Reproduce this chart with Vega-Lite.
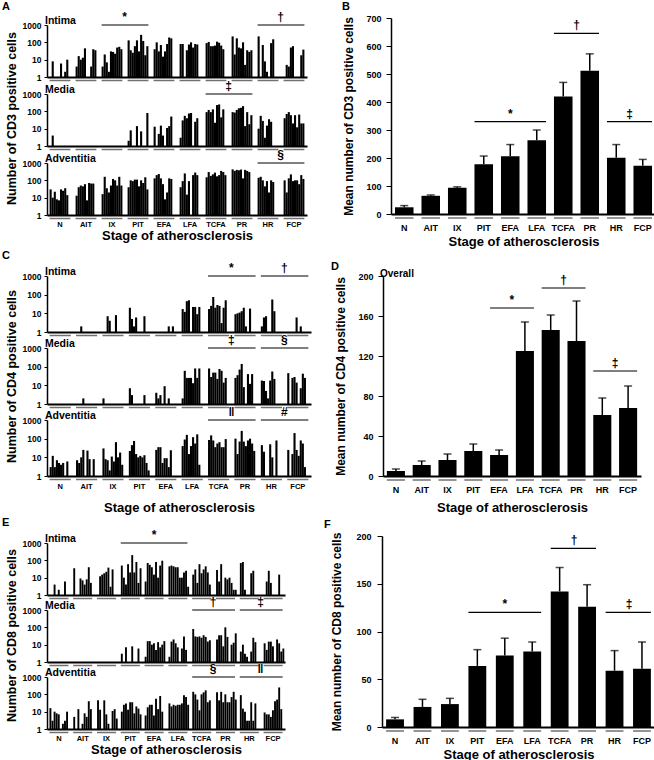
{
"$schema":"https://vega.github.io/schema/vega-lite/v6.json",
"background":"white",
"padding":{"left":2,"top":1,"right":0,"bottom":0},
"config":{
 "font":"Liberation Sans",
 "view":{"stroke":null},
 "axis":{"labelFont":"Liberation Sans","titleFont":"Liberation Sans","labelFontWeight":"bold","titleFontWeight":"bold","labelColor":"black","titleColor":"black","domainColor":"black","tickColor":"black","grid":false,"labelAngle":0,"labelOverlap":false},
 "title":{"font":"Liberation Sans","fontWeight":"bold","color":"black","anchor":"start"}
},
"datasets":{
 "groups":[{"g":"N"},{"g":"AIT"},{"g":"IX"},{"g":"PIT"},{"g":"EFA"},{"g":"LFA"},{"g":"TCFA"},{"g":"PR"},{"g":"HR"},{"g":"FCP"}],
 "counts":[
  {"m":"CD3","l":"Intima","g":"N","s0":0,"s1":8,"s2":0,"s3":0,"s4":0,"s5":6,"s6":0,"s7":2,"s8":10,"s9":0},
  {"m":"CD3","l":"Intima","g":"AIT","s0":4,"s1":16,"s2":10,"s3":13,"s4":45,"s5":0,"s6":0,"s7":4,"s8":40,"s9":35},
  {"m":"CD3","l":"Intima","g":"IX","s0":4,"s1":20,"s2":7,"s3":2,"s4":30,"s5":28,"s6":22,"s7":50,"s8":55,"s9":40},
  {"m":"CD3","l":"Intima","g":"PIT","s0":130,"s1":35,"s2":25,"s3":60,"s4":130,"s5":30,"s6":270,"s7":120,"s8":18,"s9":60},
  {"m":"CD3","l":"Intima","g":"EFA","s0":40,"s1":100,"s2":30,"s3":70,"s4":15,"s5":30,"s6":80,"s7":190,"s8":170,"s9":0},
  {"m":"CD3","l":"Intima","g":"LFA","s0":80,"s1":80,"s2":0,"s3":35,"s4":75,"s5":100,"s6":50,"s7":80,"s8":75,"s9":0},
  {"m":"CD3","l":"Intima","g":"TCFA","s0":90,"s1":105,"s2":60,"s3":60,"s4":65,"s5":110,"s6":95,"s7":65,"s8":40,"s9":0},
  {"m":"CD3","l":"Intima","g":"PR","s0":220,"s1":20,"s2":170,"s3":50,"s4":45,"s5":100,"s6":5,"s7":35,"s8":28,"s9":35},
  {"m":"CD3","l":"Intima","g":"HR","s0":220,"s1":0,"s2":70,"s3":8,"s4":2,"s5":0,"s6":90,"s7":150,"s8":0,"s9":0},
  {"m":"CD3","l":"Intima","g":"FCP","s0":0,"s1":5,"s2":4,"s3":50,"s4":60,"s5":0,"s6":0,"s7":0,"s8":18,"s9":38},
  {"m":"CD3","l":"Media","g":"N","s0":0,"s1":4,"s2":0,"s3":0,"s4":0,"s5":0,"s6":0,"s7":0,"s8":0,"s9":0},
  {"m":"CD3","l":"Media","g":"PIT","s0":2,"s1":8,"s2":0,"s3":0,"s4":14,"s5":0,"s6":7,"s7":0,"s8":0,"s9":80},
  {"m":"CD3","l":"Media","g":"EFA","s0":13,"s1":0,"s2":5,"s3":15,"s4":4,"s5":0,"s6":11,"s7":14,"s8":50,"s9":0},
  {"m":"CD3","l":"Media","g":"LFA","s0":3,"s1":30,"s2":55,"s3":40,"s4":75,"s5":80,"s6":0,"s7":25,"s8":40,"s9":0},
  {"m":"CD3","l":"Media","g":"TCFA","s0":90,"s1":120,"s2":90,"s3":130,"s4":22,"s5":230,"s6":250,"s7":45,"s8":130,"s9":0},
  {"m":"CD3","l":"Media","g":"PR","s0":90,"s1":85,"s2":120,"s3":150,"s4":160,"s5":200,"s6":14,"s7":90,"s8":18,"s9":60},
  {"m":"CD3","l":"Media","g":"HR","s0":10,"s1":55,"s2":28,"s3":3,"s4":15,"s5":35,"s6":25,"s7":0,"s8":0,"s9":0},
  {"m":"CD3","l":"Media","g":"FCP","s0":40,"s1":70,"s2":90,"s3":60,"s4":20,"s5":60,"s6":12,"s7":65,"s8":20,"s9":20},
  {"m":"CD3","l":"Adventitia","g":"N","s0":30,"s1":10,"s2":22,"s3":8,"s4":7,"s5":30,"s6":25,"s7":35,"s8":14,"s9":0},
  {"m":"CD3","l":"Adventitia","g":"AIT","s0":13,"s1":40,"s2":50,"s3":45,"s4":60,"s5":7,"s6":70,"s7":65,"s8":65,"s9":0},
  {"m":"CD3","l":"Adventitia","g":"IX","s0":16,"s1":160,"s2":35,"s3":20,"s4":50,"s5":120,"s6":100,"s7":50,"s8":160,"s9":50},
  {"m":"CD3","l":"Adventitia","g":"PIT","s0":40,"s1":100,"s2":90,"s3":110,"s4":110,"s5":45,"s6":100,"s7":70,"s8":150,"s9":30},
  {"m":"CD3","l":"Adventitia","g":"EFA","s0":130,"s1":200,"s2":230,"s3":130,"s4":60,"s5":8,"s6":20,"s7":130,"s8":120,"s9":0},
  {"m":"CD3","l":"Adventitia","g":"LFA","s0":40,"s1":90,"s2":250,"s3":15,"s4":90,"s5":0,"s6":200,"s7":280,"s8":200,"s9":0},
  {"m":"CD3","l":"Adventitia","g":"TCFA","s0":150,"s1":300,"s2":180,"s3":220,"s4":280,"s5":170,"s6":200,"s7":350,"s8":300,"s9":200},
  {"m":"CD3","l":"Adventitia","g":"PR","s0":430,"s1":350,"s2":400,"s3":380,"s4":420,"s5":130,"s6":400,"s7":350,"s8":300,"s9":0},
  {"m":"CD3","l":"Adventitia","g":"HR","s0":140,"s1":160,"s2":100,"s3":45,"s4":90,"s5":20,"s6":100,"s7":80,"s8":0,"s9":0},
  {"m":"CD3","l":"Adventitia","g":"FCP","s0":100,"s1":20,"s2":130,"s3":220,"s4":90,"s5":100,"s6":100,"s7":60,"s8":200,"s9":120},
  {"m":"CD4","l":"Intima","g":"AIT","s0":0,"s1":0,"s2":2,"s3":0,"s4":0,"s5":0,"s6":0,"s7":0,"s8":0,"s9":0},
  {"m":"CD4","l":"Intima","g":"IX","s0":0,"s1":0,"s2":7,"s3":4,"s4":0,"s5":0,"s6":8,"s7":0,"s8":0,"s9":0},
  {"m":"CD4","l":"Intima","g":"PIT","s0":20,"s1":5,"s2":2,"s3":6,"s4":0,"s5":0,"s6":0,"s7":7,"s8":0,"s9":0},
  {"m":"CD4","l":"Intima","g":"EFA","s0":0,"s1":0,"s2":0,"s3":0,"s4":0,"s5":0,"s6":2,"s7":0,"s8":2,"s9":0},
  {"m":"CD4","l":"Intima","g":"LFA","s0":17,"s1":12,"s2":45,"s3":50,"s4":0,"s5":22,"s6":22,"s7":9,"s8":22,"s9":0},
  {"m":"CD4","l":"Intima","g":"TCFA","s0":17,"s1":25,"s2":75,"s3":20,"s4":28,"s5":25,"s6":3,"s7":20,"s8":50,"s9":0},
  {"m":"CD4","l":"Intima","g":"PR","s0":9,"s1":10,"s2":11,"s3":13,"s4":20,"s5":2,"s6":0,"s7":18,"s8":0,"s9":0},
  {"m":"CD4","l":"Intima","g":"HR","s0":2,"s1":6,"s2":7,"s3":0,"s4":0,"s5":55,"s6":13,"s7":0,"s8":0,"s9":0},
  {"m":"CD4","l":"Intima","g":"FCP","s0":0,"s1":0,"s2":0,"s3":0,"s4":6,"s5":0,"s6":2,"s7":0,"s8":0,"s9":0},
  {"m":"CD4","l":"Media","g":"AIT","s0":0,"s1":0,"s2":0,"s3":2,"s4":0,"s5":0,"s6":0,"s7":0,"s8":0,"s9":0},
  {"m":"CD4","l":"Media","g":"IX","s0":2,"s1":0,"s2":0,"s3":0,"s4":0,"s5":0,"s6":0,"s7":0,"s8":0,"s9":0},
  {"m":"CD4","l":"Media","g":"PIT","s0":7,"s1":3,"s2":0,"s3":0,"s4":0,"s5":0,"s6":0,"s7":3,"s8":0,"s9":0},
  {"m":"CD4","l":"Media","g":"EFA","s0":4,"s1":2,"s2":3,"s3":0,"s4":9,"s5":0,"s6":2,"s7":0,"s8":0,"s9":0},
  {"m":"CD4","l":"Media","g":"LFA","s0":2,"s1":60,"s2":25,"s3":25,"s4":25,"s5":13,"s6":80,"s7":25,"s8":80,"s9":0},
  {"m":"CD4","l":"Media","g":"TCFA","s0":80,"s1":28,"s2":48,"s3":48,"s4":22,"s5":75,"s6":60,"s7":14,"s8":25,"s9":0},
  {"m":"CD4","l":"Media","g":"PR","s0":25,"s1":35,"s2":70,"s3":140,"s4":8,"s5":0,"s6":40,"s7":12,"s8":40,"s9":0},
  {"m":"CD4","l":"Media","g":"HR","s0":18,"s1":17,"s2":5,"s3":2,"s4":18,"s5":55,"s6":22,"s7":0,"s8":0,"s9":0},
  {"m":"CD4","l":"Media","g":"FCP","s0":45,"s1":0,"s2":25,"s3":28,"s4":14,"s5":0,"s6":7,"s7":42,"s8":25,"s9":0},
  {"m":"CD4","l":"Adventitia","g":"N","s0":3,"s1":12,"s2":3,"s3":7,"s4":5,"s5":4,"s6":5,"s7":0,"s8":6,"s9":0},
  {"m":"CD4","l":"Adventitia","g":"AIT","s0":7,"s1":5,"s2":10,"s3":25,"s4":0,"s5":23,"s6":8,"s7":0,"s8":8,"s9":0},
  {"m":"CD4","l":"Adventitia","g":"IX","s0":30,"s1":8,"s2":7,"s3":2,"s4":11,"s5":6,"s6":65,"s7":10,"s8":18,"s9":4},
  {"m":"CD4","l":"Adventitia","g":"PIT","s0":22,"s1":45,"s2":75,"s3":15,"s4":10,"s5":12,"s6":10,"s7":13,"s8":5,"s9":2},
  {"m":"CD4","l":"Adventitia","g":"EFA","s0":25,"s1":35,"s2":35,"s3":5,"s4":9,"s5":9,"s6":3,"s7":24,"s8":0,"s9":0},
  {"m":"CD4","l":"Adventitia","g":"LFA","s0":40,"s1":90,"s2":160,"s3":15,"s4":40,"s5":120,"s6":55,"s7":170,"s8":4,"s9":0},
  {"m":"CD4","l":"Adventitia","g":"TCFA","s0":85,"s1":150,"s2":80,"s3":35,"s4":55,"s5":65,"s6":35,"s7":35,"s8":95,"s9":0},
  {"m":"CD4","l":"Adventitia","g":"PR","s0":100,"s1":15,"s2":70,"s3":260,"s4":70,"s5":40,"s6":80,"s7":100,"s8":55,"s9":22},
  {"m":"CD4","l":"Adventitia","g":"HR","s0":45,"s1":20,"s2":0,"s3":0,"s4":50,"s5":10,"s6":0,"s7":80,"s8":0,"s9":0},
  {"m":"CD4","l":"Adventitia","g":"FCP","s0":25,"s1":0,"s2":15,"s3":200,"s4":25,"s5":12,"s6":80,"s7":55,"s8":3,"s9":0},
  {"m":"CD8","l":"Intima","g":"N","s0":0,"s1":0,"s2":4,"s3":0,"s4":2,"s5":0,"s6":0,"s7":6,"s8":0,"s9":0},
  {"m":"CD8","l":"Intima","g":"AIT","s0":35,"s1":0,"s2":0,"s3":9,"s4":7,"s5":4,"s6":8,"s7":40,"s8":5,"s9":0},
  {"m":"CD8","l":"Intima","g":"IX","s0":0,"s1":12,"s2":15,"s3":18,"s4":22,"s5":38,"s6":3,"s7":30,"s8":0,"s9":0},
  {"m":"CD8","l":"Intima","g":"PIT","s0":50,"s1":10,"s2":4,"s3":60,"s4":20,"s5":200,"s6":20,"s7":80,"s8":5,"s9":35},
  {"m":"CD8","l":"Intima","g":"EFA","s0":6,"s1":70,"s2":55,"s3":40,"s4":15,"s5":80,"s6":10,"s7":50,"s8":95,"s9":0},
  {"m":"CD8","l":"Intima","g":"LFA","s0":45,"s1":50,"s2":45,"s3":40,"s4":40,"s5":10,"s6":10,"s7":20,"s8":25,"s9":3},
  {"m":"CD8","l":"Intima","g":"TCFA","s0":15,"s1":30,"s2":5,"s3":60,"s4":18,"s5":30,"s6":45,"s7":20,"s8":4,"s9":0},
  {"m":"CD8","l":"Intima","g":"PR","s0":28,"s1":6,"s2":60,"s3":0,"s4":10,"s5":8,"s6":10,"s7":5,"s8":2,"s9":2},
  {"m":"CD8","l":"Intima","g":"HR","s0":70,"s1":80,"s2":2,"s3":0,"s4":0,"s5":18,"s6":25,"s7":0,"s8":0,"s9":0},
  {"m":"CD8","l":"Intima","g":"FCP","s0":0,"s1":6,"s2":25,"s3":5,"s4":0,"s5":0,"s6":0,"s7":15,"s8":0,"s9":0},
  {"m":"CD8","l":"Media","g":"PIT","s0":3,"s1":0,"s2":7,"s3":0,"s4":0,"s5":8,"s6":0,"s7":0,"s8":6,"s9":0},
  {"m":"CD8","l":"Media","g":"EFA","s0":2,"s1":16,"s2":16,"s3":10,"s4":12,"s5":5,"s6":14,"s7":7,"s8":10,"s9":16},
  {"m":"CD8","l":"Media","g":"LFA","s0":2,"s1":15,"s2":20,"s3":12,"s4":7,"s5":0,"s6":6,"s7":30,"s8":5,"s9":0},
  {"m":"CD8","l":"Media","g":"TCFA","s0":80,"s1":30,"s2":28,"s3":30,"s4":25,"s5":35,"s6":28,"s7":15,"s8":18,"s9":0},
  {"m":"CD8","l":"Media","g":"PR","s0":20,"s1":35,"s2":35,"s3":8,"s4":100,"s5":28,"s6":0,"s7":10,"s8":13,"s9":45},
  {"m":"CD8","l":"Media","g":"HR","s0":4,"s1":10,"s2":3,"s3":2,"s4":0,"s5":4,"s6":25,"s7":14,"s8":0,"s9":0},
  {"m":"CD8","l":"Media","g":"FCP","s0":12,"s1":5,"s2":15,"s3":15,"s4":8,"s5":0,"s6":20,"s7":12,"s8":4,"s9":6},
  {"m":"CD8","l":"Adventitia","g":"N","s0":16,"s1":3,"s2":10,"s3":8,"s4":7,"s5":0,"s6":2,"s7":3,"s8":10,"s9":0},
  {"m":"CD8","l":"Adventitia","g":"AIT","s0":5,"s1":0,"s2":14,"s3":0,"s4":2,"s5":8,"s6":5,"s7":40,"s8":14,"s9":0},
  {"m":"CD8","l":"Adventitia","g":"IX","s0":45,"s1":13,"s2":0,"s3":45,"s4":7,"s5":2,"s6":0,"s7":11,"s8":14,"s9":4},
  {"m":"CD8","l":"Adventitia","g":"PIT","s0":10,"s1":25,"s2":30,"s3":13,"s4":35,"s5":35,"s6":8,"s7":20,"s8":15,"s9":7},
  {"m":"CD8","l":"Adventitia","g":"EFA","s0":6,"s1":18,"s2":25,"s3":25,"s4":6,"s5":55,"s6":14,"s7":80,"s8":10,"s9":0},
  {"m":"CD8","l":"Adventitia","g":"LFA","s0":30,"s1":20,"s2":25,"s3":22,"s4":25,"s5":25,"s6":30,"s7":90,"s8":70,"s9":25},
  {"m":"CD8","l":"Adventitia","g":"TCFA","s0":140,"s1":100,"s2":50,"s3":12,"s4":100,"s5":130,"s6":170,"s7":35,"s8":45,"s9":0},
  {"m":"CD8","l":"Adventitia","g":"PR","s0":130,"s1":45,"s2":140,"s3":35,"s4":100,"s5":35,"s6":35,"s7":70,"s8":140,"s9":50},
  {"m":"CD8","l":"Adventitia","g":"HR","s0":90,"s1":15,"s2":10,"s3":3,"s4":3,"s5":35,"s6":3,"s7":30,"s8":0,"s9":0},
  {"m":"CD8","l":"Adventitia","g":"FCP","s0":9,"s1":7,"s2":7,"s3":5,"s4":12,"s5":40,"s6":50,"s7":250,"s8":14,"s9":0}
 ],
 "means":[
  {"m":"CD3","g":"N","mean":24,"upper":30},{"m":"CD3","g":"AIT","mean":65,"upper":68},{"m":"CD3","g":"IX","mean":94,"upper":97},{"m":"CD3","g":"PIT","mean":178,"upper":207},{"m":"CD3","g":"EFA","mean":206,"upper":248},{"m":"CD3","g":"LFA","mean":263,"upper":300},{"m":"CD3","g":"TCFA","mean":420,"upper":470},{"m":"CD3","g":"PR","mean":512,"upper":572},{"m":"CD3","g":"HR","mean":201,"upper":248},{"m":"CD3","g":"FCP","mean":172,"upper":195},
  {"m":"CD4","g":"N","mean":5,"upper":7},{"m":"CD4","g":"AIT","mean":11,"upper":15},{"m":"CD4","g":"IX","mean":16,"upper":22},{"m":"CD4","g":"PIT","mean":25,"upper":32},{"m":"CD4","g":"EFA","mean":21,"upper":26},{"m":"CD4","g":"LFA","mean":125,"upper":154},{"m":"CD4","g":"TCFA","mean":146,"upper":161},{"m":"CD4","g":"PR","mean":135,"upper":175},{"m":"CD4","g":"HR","mean":61,"upper":78},{"m":"CD4","g":"FCP","mean":68,"upper":90},
  {"m":"CD8","g":"N","mean":8,"upper":10},{"m":"CD8","g":"AIT","mean":21,"upper":29},{"m":"CD8","g":"IX","mean":24,"upper":30},{"m":"CD8","g":"PIT","mean":64,"upper":81},{"m":"CD8","g":"EFA","mean":75,"upper":93},{"m":"CD8","g":"LFA","mean":79,"upper":89},{"m":"CD8","g":"TCFA","mean":142,"upper":167},{"m":"CD8","g":"PR","mean":126,"upper":149},{"m":"CD8","g":"HR","mean":59,"upper":80},{"m":"CD8","g":"FCP","mean":61,"upper":89}
 ],
 "sig":[
  {"k":"A1","from":"IX","to":"PIT","mid":"PIT","odd":false,"y":1000,"t":"*"},
  {"k":"A1","from":"HR","to":"FCP","mid":"FCP","odd":false,"y":1000,"t":"†"},
  {"k":"A2","from":"TCFA","to":"PR","mid":"PR","odd":false,"y":1000,"t":"‡"},
  {"k":"A3","from":"HR","to":"FCP","mid":"FCP","odd":false,"y":1000,"t":"§"},
  {"k":"B","from":"PIT","to":"LFA","mid":"EFA","odd":true,"y":330,"t":"*"},
  {"k":"B","from":"TCFA","to":"PR","mid":"PR","odd":false,"y":645,"t":"†"},
  {"k":"B","from":"HR","to":"FCP","mid":"FCP","odd":false,"y":330,"t":"‡"},
  {"k":"C1","from":"TCFA","to":"PR","mid":"PR","odd":false,"y":1000,"t":"*"},
  {"k":"C1","from":"HR","to":"FCP","mid":"FCP","odd":false,"y":1000,"t":"†"},
  {"k":"C2","from":"TCFA","to":"PR","mid":"PR","odd":false,"y":1000,"t":"‡"},
  {"k":"C2","from":"HR","to":"FCP","mid":"FCP","odd":false,"y":1000,"t":"§"},
  {"k":"C3","from":"TCFA","to":"PR","mid":"PR","odd":false,"y":1000,"t":"‖"},
  {"k":"C3","from":"HR","to":"FCP","mid":"FCP","odd":false,"y":1000,"t":"#"},
  {"k":"D","from":"EFA","to":"LFA","mid":"LFA","odd":false,"y":168,"t":"*"},
  {"k":"D","from":"TCFA","to":"PR","mid":"PR","odd":false,"y":188,"t":"†"},
  {"k":"D","from":"HR","to":"FCP","mid":"FCP","odd":false,"y":105,"t":"‡"},
  {"k":"E1","from":"PIT","to":"LFA","mid":"EFA","odd":true,"y":1000,"t":"*"},
  {"k":"E2","from":"TCFA","to":"PR","mid":"PR","odd":false,"y":1000,"t":"†"},
  {"k":"E2","from":"HR","to":"FCP","mid":"FCP","odd":false,"y":1000,"t":"‡"},
  {"k":"E3","from":"TCFA","to":"PR","mid":"PR","odd":false,"y":1000,"t":"§"},
  {"k":"E3","from":"HR","to":"FCP","mid":"FCP","odd":false,"y":1000,"t":"‖"},
  {"k":"F","from":"PIT","to":"LFA","mid":"EFA","odd":true,"y":120,"t":"*"},
  {"k":"F","from":"TCFA","to":"PR","mid":"PR","odd":false,"y":187,"t":"†"},
  {"k":"F","from":"HR","to":"FCP","mid":"FCP","odd":false,"y":120,"t":"‡"}
 ]
},
"spacing":2,
"vconcat":[
 {"hconcat":[
  {"vconcat":[
   {"width":10,"height":1,"data":{"values":[{"z":0}]},"mark":{"type":"point","opacity":0},"encoding":{}},
   {"vconcat":[
   {"width":260,"height":52,"title":{"text":"Intima","fontSize":10.5,"frame":"group","offset":-15,"dx":-2},
    "layer":[
     {"data":{"name":"counts"},"transform":[{"filter":"datum.m==='CD3' && datum.l==='Intima'"},{"fold":["s0","s1","s2","s3","s4","s5","s6","s7","s8","s9"],"as":["s","v"]},{"filter":"datum.v>0"}],
      "mark":{"type":"rule","color":"black","strokeWidth":2.1},
      "encoding":{"x":{"field":"g","type":"nominal","scale":{"domain":["N","AIT","IX","PIT","EFA","LFA","TCFA","PR","HR","FCP"],"paddingInner":0.2,"paddingOuter":0.1},"axis":{"labels":false,"ticks":false,"title":null,"domainWidth":2}},
       "xOffset":{"field":"s","type":"nominal","scale":{"domain":["s0","s1","s2","s3","s4","s5","s6","s7","s8","s9"]}},
       "y":{"field":"v","type":"quantitative","scale":{"type":"log","domain":[1,1000]},"axis":{"values":[1,10,100,1000],"tickCount":10,"format":"d","labelFontSize":8.5,"tickSize":3,"labelPadding":3,"domainWidth":1.5,"title":"Number of CD3 positive cells","titleFontSize":12.5,"titlePadding":4,"titleY":93}},
       "y2":{"datum":1}}},
     {"data":{"name":"groups"},"mark":{"type":"tick","orient":"horizontal","thickness":1.5,"color":"#333","yOffset":3.5},"encoding":{"x":{"field":"g","type":"nominal"},"y":{"datum":1}}},
     {"data":{"name":"sig"},"transform":[{"filter":"datum.k==='A1'"}],"mark":{"type":"rule","color":"black","strokeWidth":1.2},"encoding":{"x":{"field":"from","type":"nominal","bandPosition":0},"x2":{"field":"to","bandPosition":1},"y":{"field":"y","type":"quantitative"}}},
     {"data":{"name":"sig"},"transform":[{"filter":"datum.k==='A1' && !datum.odd"}],"mark":{"type":"text","baseline":"bottom","dy":-1,"dx":-3,"fontSize":12,"fontWeight":"bold","font":"Liberation Sans, DejaVu Sans"},"encoding":{"x":{"field":"mid","type":"nominal","bandPosition":0},"y":{"field":"y","type":"quantitative"},"text":{"field":"t"}}}
    ]},
   {"width":260,"height":52,"title":{"text":"Media","fontSize":10.5,"frame":"group","offset":-15,"dx":-2},
    "layer":[
     {"data":{"name":"counts"},"transform":[{"filter":"datum.m==='CD3' && datum.l==='Media'"},{"fold":["s0","s1","s2","s3","s4","s5","s6","s7","s8","s9"],"as":["s","v"]},{"filter":"datum.v>0"}],
      "mark":{"type":"rule","color":"black","strokeWidth":2.1},
      "encoding":{"x":{"field":"g","type":"nominal","scale":{"domain":["N","AIT","IX","PIT","EFA","LFA","TCFA","PR","HR","FCP"],"paddingInner":0.2,"paddingOuter":0.1},"axis":{"labels":false,"ticks":false,"title":null,"domainWidth":2}},
       "xOffset":{"field":"s","type":"nominal","scale":{"domain":["s0","s1","s2","s3","s4","s5","s6","s7","s8","s9"]}},
       "y":{"field":"v","type":"quantitative","scale":{"type":"log","domain":[1,1000]},"axis":{"values":[1,10,100,1000],"tickCount":10,"format":"d","labelFontSize":8.5,"tickSize":3,"labelPadding":3,"domainWidth":1.5,"title":null}},
       "y2":{"datum":1}}},
     {"data":{"name":"groups"},"mark":{"type":"tick","orient":"horizontal","thickness":1.5,"color":"#333","yOffset":3.5},"encoding":{"x":{"field":"g","type":"nominal"},"y":{"datum":1}}},
     {"data":{"name":"sig"},"transform":[{"filter":"datum.k==='A2'"}],"mark":{"type":"rule","color":"black","strokeWidth":1.2},"encoding":{"x":{"field":"from","type":"nominal","bandPosition":0},"x2":{"field":"to","bandPosition":1},"y":{"field":"y","type":"quantitative"}}},
     {"data":{"name":"sig"},"transform":[{"filter":"datum.k==='A2' && !datum.odd"}],"mark":{"type":"text","baseline":"bottom","dy":-1,"dx":-3,"fontSize":12,"fontWeight":"bold","font":"Liberation Sans, DejaVu Sans"},"encoding":{"x":{"field":"mid","type":"nominal","bandPosition":0},"y":{"field":"y","type":"quantitative"},"text":{"field":"t"}}}
    ]},
   {"width":260,"height":52,"title":{"text":"Adventitia","fontSize":10.5,"frame":"group","offset":-15,"dx":-2},
    "layer":[
     {"data":{"name":"counts"},"transform":[{"filter":"datum.m==='CD3' && datum.l==='Adventitia'"},{"fold":["s0","s1","s2","s3","s4","s5","s6","s7","s8","s9"],"as":["s","v"]},{"filter":"datum.v>0"}],
      "mark":{"type":"rule","color":"black","strokeWidth":2.1},
      "encoding":{"x":{"field":"g","type":"nominal","scale":{"domain":["N","AIT","IX","PIT","EFA","LFA","TCFA","PR","HR","FCP"],"paddingInner":0.2,"paddingOuter":0.1},"axis":{"ticks":false,"domainWidth":2,"labelFontSize":7.5,"labelPadding":5,"title":"Stage of atherosclerosis","titleFontSize":13,"titlePadding":2}},
       "xOffset":{"field":"s","type":"nominal","scale":{"domain":["s0","s1","s2","s3","s4","s5","s6","s7","s8","s9"]}},
       "y":{"field":"v","type":"quantitative","scale":{"type":"log","domain":[1,1000]},"axis":{"values":[1,10,100,1000],"tickCount":10,"format":"d","labelFontSize":8.5,"tickSize":3,"labelPadding":3,"domainWidth":1.5,"title":null}},
       "y2":{"datum":1}}},
     {"data":{"name":"groups"},"mark":{"type":"tick","orient":"horizontal","thickness":1.5,"color":"#333","yOffset":3.5},"encoding":{"x":{"field":"g","type":"nominal"},"y":{"datum":1}}},
     {"data":{"name":"sig"},"transform":[{"filter":"datum.k==='A3'"}],"mark":{"type":"rule","color":"black","strokeWidth":1.2},"encoding":{"x":{"field":"from","type":"nominal","bandPosition":0},"x2":{"field":"to","bandPosition":1},"y":{"field":"y","type":"quantitative"}}},
     {"data":{"name":"sig"},"transform":[{"filter":"datum.k==='A3' && !datum.odd"}],"mark":{"type":"text","baseline":"bottom","dy":-1,"dx":-3,"fontSize":12,"fontWeight":"bold","font":"Liberation Sans, DejaVu Sans"},"encoding":{"x":{"field":"mid","type":"nominal","bandPosition":0},"y":{"field":"y","type":"quantitative"},"text":{"field":"t"}}}
    ]}
   ],"spacing":17,"bounds":"flush"}
  ],"spacing":6,"bounds":"flush","title":{"text":"A","fontSize":11,"frame":"bounds","offset":-1,"dx":-3}},
  {"width":265,"height":196,"title":{"text":"B","fontSize":11,"frame":"bounds","offset":2,"dx":-1},
   "layer":[
    {"data":{"name":"means"},"transform":[{"filter":"datum.m==='CD3'"}],"mark":{"type":"bar","color":"black"},
     "encoding":{"x":{"field":"g","type":"nominal","scale":{"domain":["N","AIT","IX","PIT","EFA","LFA","TCFA","PR","HR","FCP"],"paddingInner":0.3,"paddingOuter":0.15},"axis":{"ticks":false,"domainWidth":2,"labelFontSize":9,"labelPadding":9,"title":"Stage of atherosclerosis","titleFontSize":13,"titlePadding":3}},
      "y":{"field":"mean","type":"quantitative","scale":{"domain":[0,700],"nice":false},"axis":{"values":[0,100,200,300,400,500,600,700],"tickCount":20,"labelOverlap":false,"labelFontSize":9,"tickSize":5,"labelPadding":5,"domainWidth":1.5,"title":"Mean number of CD3 positive cells","titleFontSize":12,"titlePadding":10}}}},
    {"data":{"name":"means"},"transform":[{"filter":"datum.m==='CD3'"}],"mark":{"type":"rule","color":"black","strokeWidth":1.5},"encoding":{"x":{"field":"g","type":"nominal"},"y":{"field":"mean","type":"quantitative"},"y2":{"field":"upper"}}},
    {"data":{"name":"means"},"transform":[{"filter":"datum.m==='CD3'"}],"mark":{"type":"tick","orient":"horizontal","size":8,"thickness":1.5,"color":"black"},"encoding":{"x":{"field":"g","type":"nominal"},"y":{"field":"upper","type":"quantitative"}}},
    {"data":{"name":"groups"},"mark":{"type":"tick","orient":"horizontal","thickness":1.5,"color":"#333","yOffset":4},"encoding":{"x":{"field":"g","type":"nominal"},"y":{"datum":0}}},
    {"data":{"name":"sig"},"transform":[{"filter":"datum.k==='B'"}],"mark":{"type":"rule","color":"black","strokeWidth":1.2},"encoding":{"x":{"field":"from","type":"nominal","bandPosition":0},"x2":{"field":"to","bandPosition":1},"y":{"field":"y","type":"quantitative"}}},
    {"data":{"name":"sig"},"transform":[{"filter":"datum.k==='B' && !datum.odd"}],"mark":{"type":"text","baseline":"bottom","dy":-1,"dx":-4,"fontSize":12,"fontWeight":"bold","font":"Liberation Sans, DejaVu Sans"},"encoding":{"x":{"field":"mid","type":"nominal","bandPosition":0},"y":{"field":"y","type":"quantitative"},"text":{"field":"t"}}},
    {"data":{"name":"sig"},"transform":[{"filter":"datum.k==='B' && datum.odd"}],"mark":{"type":"text","baseline":"bottom","dy":-1,"fontSize":12,"fontWeight":"bold","font":"Liberation Sans, DejaVu Sans"},"encoding":{"x":{"field":"mid","type":"nominal","bandPosition":0.5},"y":{"field":"y","type":"quantitative"},"text":{"field":"t"}}}
   ]}
 ],"spacing":34},
 {"hconcat":[
  {"vconcat":[
   {"width":264,"height":56,"title":{"text":"Intima","fontSize":10.5,"frame":"group","offset":-15,"dx":-2},
    "layer":[
     {"data":{"name":"counts"},"transform":[{"filter":"datum.m==='CD4' && datum.l==='Intima'"},{"fold":["s0","s1","s2","s3","s4","s5","s6","s7","s8","s9"],"as":["s","v"]},{"filter":"datum.v>0"}],
      "mark":{"type":"rule","color":"black","strokeWidth":2.1},
      "encoding":{"x":{"field":"g","type":"nominal","scale":{"domain":["N","AIT","IX","PIT","EFA","LFA","TCFA","PR","HR","FCP"],"paddingInner":0.2,"paddingOuter":0.1},"axis":{"labels":false,"ticks":false,"title":null,"domainWidth":2}},
       "xOffset":{"field":"s","type":"nominal","scale":{"domain":["s0","s1","s2","s3","s4","s5","s6","s7","s8","s9"]}},
       "y":{"field":"v","type":"quantitative","scale":{"type":"log","domain":[1,1000]},"axis":{"values":[1,10,100,1000],"tickCount":10,"format":"d","labelFontSize":8.5,"tickSize":3,"labelPadding":3,"domainWidth":1.5,"title":"Number of CD4 positive cells","titleFontSize":12.5,"titlePadding":4,"titleY":100}},
       "y2":{"datum":1}}},
     {"data":{"name":"groups"},"mark":{"type":"tick","orient":"horizontal","thickness":1.5,"color":"#333","yOffset":3.5},"encoding":{"x":{"field":"g","type":"nominal"},"y":{"datum":1}}},
     {"data":{"name":"sig"},"transform":[{"filter":"datum.k==='C1'"}],"mark":{"type":"rule","color":"black","strokeWidth":1.2},"encoding":{"x":{"field":"from","type":"nominal","bandPosition":0},"x2":{"field":"to","bandPosition":1},"y":{"field":"y","type":"quantitative"}}},
     {"data":{"name":"sig"},"transform":[{"filter":"datum.k==='C1' && !datum.odd"}],"mark":{"type":"text","baseline":"bottom","dy":-1,"dx":-3,"fontSize":12,"fontWeight":"bold","font":"Liberation Sans, DejaVu Sans"},"encoding":{"x":{"field":"mid","type":"nominal","bandPosition":0},"y":{"field":"y","type":"quantitative"},"text":{"field":"t"}}}
    ]},
   {"width":264,"height":56,"title":{"text":"Media","fontSize":10.5,"frame":"group","offset":-15,"dx":-2},
    "layer":[
     {"data":{"name":"counts"},"transform":[{"filter":"datum.m==='CD4' && datum.l==='Media'"},{"fold":["s0","s1","s2","s3","s4","s5","s6","s7","s8","s9"],"as":["s","v"]},{"filter":"datum.v>0"}],
      "mark":{"type":"rule","color":"black","strokeWidth":2.1},
      "encoding":{"x":{"field":"g","type":"nominal","scale":{"domain":["N","AIT","IX","PIT","EFA","LFA","TCFA","PR","HR","FCP"],"paddingInner":0.2,"paddingOuter":0.1},"axis":{"labels":false,"ticks":false,"title":null,"domainWidth":2}},
       "xOffset":{"field":"s","type":"nominal","scale":{"domain":["s0","s1","s2","s3","s4","s5","s6","s7","s8","s9"]}},
       "y":{"field":"v","type":"quantitative","scale":{"type":"log","domain":[1,1000]},"axis":{"values":[1,10,100,1000],"tickCount":10,"format":"d","labelFontSize":8.5,"tickSize":3,"labelPadding":3,"domainWidth":1.5,"title":null}},
       "y2":{"datum":1}}},
     {"data":{"name":"groups"},"mark":{"type":"tick","orient":"horizontal","thickness":1.5,"color":"#333","yOffset":3.5},"encoding":{"x":{"field":"g","type":"nominal"},"y":{"datum":1}}},
     {"data":{"name":"sig"},"transform":[{"filter":"datum.k==='C2'"}],"mark":{"type":"rule","color":"black","strokeWidth":1.2},"encoding":{"x":{"field":"from","type":"nominal","bandPosition":0},"x2":{"field":"to","bandPosition":1},"y":{"field":"y","type":"quantitative"}}},
     {"data":{"name":"sig"},"transform":[{"filter":"datum.k==='C2' && !datum.odd"}],"mark":{"type":"text","baseline":"bottom","dy":-1,"dx":-3,"fontSize":12,"fontWeight":"bold","font":"Liberation Sans, DejaVu Sans"},"encoding":{"x":{"field":"mid","type":"nominal","bandPosition":0},"y":{"field":"y","type":"quantitative"},"text":{"field":"t"}}}
    ]},
   {"width":264,"height":56,"title":{"text":"Adventitia","fontSize":10.5,"frame":"group","offset":-15,"dx":-2},
    "layer":[
     {"data":{"name":"counts"},"transform":[{"filter":"datum.m==='CD4' && datum.l==='Adventitia'"},{"fold":["s0","s1","s2","s3","s4","s5","s6","s7","s8","s9"],"as":["s","v"]},{"filter":"datum.v>0"}],
      "mark":{"type":"rule","color":"black","strokeWidth":2.1},
      "encoding":{"x":{"field":"g","type":"nominal","scale":{"domain":["N","AIT","IX","PIT","EFA","LFA","TCFA","PR","HR","FCP"],"paddingInner":0.2,"paddingOuter":0.1},"axis":{"ticks":false,"domainWidth":2,"labelFontSize":7.5,"labelPadding":6,"title":"Stage of atherosclerosis","titleFontSize":13,"titlePadding":12}},
       "xOffset":{"field":"s","type":"nominal","scale":{"domain":["s0","s1","s2","s3","s4","s5","s6","s7","s8","s9"]}},
       "y":{"field":"v","type":"quantitative","scale":{"type":"log","domain":[1,1000]},"axis":{"values":[1,10,100,1000],"tickCount":10,"format":"d","labelFontSize":8.5,"tickSize":3,"labelPadding":3,"domainWidth":1.5,"title":null}},
       "y2":{"datum":1}}},
     {"data":{"name":"groups"},"mark":{"type":"tick","orient":"horizontal","thickness":1.5,"color":"#333","yOffset":3.5},"encoding":{"x":{"field":"g","type":"nominal"},"y":{"datum":1}}},
     {"data":{"name":"sig"},"transform":[{"filter":"datum.k==='C3'"}],"mark":{"type":"rule","color":"black","strokeWidth":1.2},"encoding":{"x":{"field":"from","type":"nominal","bandPosition":0},"x2":{"field":"to","bandPosition":1},"y":{"field":"y","type":"quantitative"}}},
     {"data":{"name":"sig"},"transform":[{"filter":"datum.k==='C3' && !datum.odd"}],"mark":{"type":"text","baseline":"bottom","dy":-1,"dx":-3,"fontSize":12,"fontWeight":"bold","font":"Liberation Sans, DejaVu Sans"},"encoding":{"x":{"field":"mid","type":"nominal","bandPosition":0},"y":{"field":"y","type":"quantitative"},"text":{"field":"t"}}}
    ]}
  ],"spacing":16,"bounds":"flush","title":{"text":"C","fontSize":11,"frame":"bounds","offset":1,"dx":-3}},
  {"vconcat":[
   {"width":258,"height":200,"title":{"text":"Overall","fontSize":10,"frame":"group","offset":-7,"dx":-3},
    "layer":[
     {"data":{"name":"means"},"transform":[{"filter":"datum.m==='CD4'"}],"mark":{"type":"bar","color":"black"},
      "encoding":{"x":{"field":"g","type":"nominal","scale":{"domain":["N","AIT","IX","PIT","EFA","LFA","TCFA","PR","HR","FCP"],"paddingInner":0.3,"paddingOuter":0.15},"axis":{"ticks":false,"domainWidth":2,"labelFontSize":9,"labelPadding":9,"title":"Stage of atherosclerosis","titleFontSize":13,"titlePadding":7}},
       "y":{"field":"mean","type":"quantitative","scale":{"domain":[0,200],"nice":false},"axis":{"values":[0,40,80,120,160,200],"tickCount":20,"labelOverlap":false,"labelFontSize":9,"tickSize":5,"labelPadding":5,"domainWidth":1.5,"title":"Mean number of CD4 positive cells","titleFontSize":12,"titlePadding":10}}}},
     {"data":{"name":"means"},"transform":[{"filter":"datum.m==='CD4'"}],"mark":{"type":"rule","color":"black","strokeWidth":1.5},"encoding":{"x":{"field":"g","type":"nominal"},"y":{"field":"mean","type":"quantitative"},"y2":{"field":"upper"}}},
     {"data":{"name":"means"},"transform":[{"filter":"datum.m==='CD4'"}],"mark":{"type":"tick","orient":"horizontal","size":8,"thickness":1.5,"color":"black"},"encoding":{"x":{"field":"g","type":"nominal"},"y":{"field":"upper","type":"quantitative"}}},
     {"data":{"name":"groups"},"mark":{"type":"tick","orient":"horizontal","thickness":1.5,"color":"#333","yOffset":4},"encoding":{"x":{"field":"g","type":"nominal"},"y":{"datum":0}}},
     {"data":{"name":"sig"},"transform":[{"filter":"datum.k==='D'"}],"mark":{"type":"rule","color":"black","strokeWidth":1.2},"encoding":{"x":{"field":"from","type":"nominal","bandPosition":0},"x2":{"field":"to","bandPosition":1},"y":{"field":"y","type":"quantitative"}}},
     {"data":{"name":"sig"},"transform":[{"filter":"datum.k==='D' && !datum.odd"}],"mark":{"type":"text","baseline":"bottom","dy":-1,"dx":-4,"fontSize":12,"fontWeight":"bold","font":"Liberation Sans, DejaVu Sans"},"encoding":{"x":{"field":"mid","type":"nominal","bandPosition":0},"y":{"field":"y","type":"quantitative"},"text":{"field":"t"}}}
    ]}
  ],"title":{"text":"D","fontSize":11,"frame":"bounds","offset":-3,"dx":-4}}
 ],"spacing":19},
 {"hconcat":[
  {"vconcat":[
   {"width":10,"height":1,"data":{"values":[{"z":0}]},"mark":{"type":"point","opacity":0},"encoding":{}},
   {"vconcat":[
   {"width":238,"height":52,"title":{"text":"Intima","fontSize":10.5,"frame":"group","offset":-15,"dx":-2},
    "layer":[
     {"data":{"name":"counts"},"transform":[{"filter":"datum.m==='CD8' && datum.l==='Intima'"},{"fold":["s0","s1","s2","s3","s4","s5","s6","s7","s8","s9"],"as":["s","v"]},{"filter":"datum.v>0"}],
      "mark":{"type":"rule","color":"black","strokeWidth":1.9},
      "encoding":{"x":{"field":"g","type":"nominal","scale":{"domain":["N","AIT","IX","PIT","EFA","LFA","TCFA","PR","HR","FCP"],"paddingInner":0.2,"paddingOuter":0.1},"axis":{"labels":false,"ticks":false,"title":null,"domainWidth":2}},
       "xOffset":{"field":"s","type":"nominal","scale":{"domain":["s0","s1","s2","s3","s4","s5","s6","s7","s8","s9"]}},
       "y":{"field":"v","type":"quantitative","scale":{"type":"log","domain":[1,1000]},"axis":{"values":[1,10,100,1000],"tickCount":10,"format":"d","labelFontSize":8.5,"tickSize":3,"labelPadding":3,"domainWidth":1.5,"title":"Number of CD8 positive cells","titleFontSize":12.5,"titlePadding":4,"titleY":92}},
       "y2":{"datum":1}}},
     {"data":{"name":"groups"},"mark":{"type":"tick","orient":"horizontal","thickness":1.5,"color":"#333","yOffset":3.5},"encoding":{"x":{"field":"g","type":"nominal"},"y":{"datum":1}}},
     {"data":{"name":"sig"},"transform":[{"filter":"datum.k==='E1'"}],"mark":{"type":"rule","color":"black","strokeWidth":1.2},"encoding":{"x":{"field":"from","type":"nominal","bandPosition":0},"x2":{"field":"to","bandPosition":1},"y":{"field":"y","type":"quantitative"}}},
     {"data":{"name":"sig"},"transform":[{"filter":"datum.k==='E1' && datum.odd"}],"mark":{"type":"text","baseline":"bottom","dy":-1,"fontSize":12,"fontWeight":"bold","font":"Liberation Sans, DejaVu Sans"},"encoding":{"x":{"field":"mid","type":"nominal","bandPosition":0.5},"y":{"field":"y","type":"quantitative"},"text":{"field":"t"}}}
    ]},
   {"width":238,"height":52,"title":{"text":"Media","fontSize":10.5,"frame":"group","offset":-15,"dx":-2},
    "layer":[
     {"data":{"name":"counts"},"transform":[{"filter":"datum.m==='CD8' && datum.l==='Media'"},{"fold":["s0","s1","s2","s3","s4","s5","s6","s7","s8","s9"],"as":["s","v"]},{"filter":"datum.v>0"}],
      "mark":{"type":"rule","color":"black","strokeWidth":1.9},
      "encoding":{"x":{"field":"g","type":"nominal","scale":{"domain":["N","AIT","IX","PIT","EFA","LFA","TCFA","PR","HR","FCP"],"paddingInner":0.2,"paddingOuter":0.1},"axis":{"labels":false,"ticks":false,"title":null,"domainWidth":2}},
       "xOffset":{"field":"s","type":"nominal","scale":{"domain":["s0","s1","s2","s3","s4","s5","s6","s7","s8","s9"]}},
       "y":{"field":"v","type":"quantitative","scale":{"type":"log","domain":[1,1000]},"axis":{"values":[1,10,100,1000],"tickCount":10,"format":"d","labelFontSize":8.5,"tickSize":3,"labelPadding":3,"domainWidth":1.5,"title":null}},
       "y2":{"datum":1}}},
     {"data":{"name":"groups"},"mark":{"type":"tick","orient":"horizontal","thickness":1.5,"color":"#333","yOffset":3.5},"encoding":{"x":{"field":"g","type":"nominal"},"y":{"datum":1}}},
     {"data":{"name":"sig"},"transform":[{"filter":"datum.k==='E2'"}],"mark":{"type":"rule","color":"black","strokeWidth":1.2},"encoding":{"x":{"field":"from","type":"nominal","bandPosition":0},"x2":{"field":"to","bandPosition":1},"y":{"field":"y","type":"quantitative"}}},
     {"data":{"name":"sig"},"transform":[{"filter":"datum.k==='E2' && !datum.odd"}],"mark":{"type":"text","baseline":"bottom","dy":-1,"dx":-3,"fontSize":12,"fontWeight":"bold","font":"Liberation Sans, DejaVu Sans"},"encoding":{"x":{"field":"mid","type":"nominal","bandPosition":0},"y":{"field":"y","type":"quantitative"},"text":{"field":"t"}}}
    ]},
   {"width":238,"height":52,"title":{"text":"Adventitia","fontSize":10.5,"frame":"group","offset":-15,"dx":-2},
    "layer":[
     {"data":{"name":"counts"},"transform":[{"filter":"datum.m==='CD8' && datum.l==='Adventitia'"},{"fold":["s0","s1","s2","s3","s4","s5","s6","s7","s8","s9"],"as":["s","v"]},{"filter":"datum.v>0"}],
      "mark":{"type":"rule","color":"black","strokeWidth":1.9},
      "encoding":{"x":{"field":"g","type":"nominal","scale":{"domain":["N","AIT","IX","PIT","EFA","LFA","TCFA","PR","HR","FCP"],"paddingInner":0.2,"paddingOuter":0.1},"axis":{"ticks":false,"domainWidth":2,"labelFontSize":7.5,"labelPadding":5,"title":"Stage of atherosclerosis","titleFontSize":13,"titlePadding":2}},
       "xOffset":{"field":"s","type":"nominal","scale":{"domain":["s0","s1","s2","s3","s4","s5","s6","s7","s8","s9"]}},
       "y":{"field":"v","type":"quantitative","scale":{"type":"log","domain":[1,1000]},"axis":{"values":[1,10,100,1000],"tickCount":10,"format":"d","labelFontSize":8.5,"tickSize":3,"labelPadding":3,"domainWidth":1.5,"title":null}},
       "y2":{"datum":1}}},
     {"data":{"name":"groups"},"mark":{"type":"tick","orient":"horizontal","thickness":1.5,"color":"#333","yOffset":3.5},"encoding":{"x":{"field":"g","type":"nominal"},"y":{"datum":1}}},
     {"data":{"name":"sig"},"transform":[{"filter":"datum.k==='E3'"}],"mark":{"type":"rule","color":"black","strokeWidth":1.2},"encoding":{"x":{"field":"from","type":"nominal","bandPosition":0},"x2":{"field":"to","bandPosition":1},"y":{"field":"y","type":"quantitative"}}},
     {"data":{"name":"sig"},"transform":[{"filter":"datum.k==='E3' && !datum.odd"}],"mark":{"type":"text","baseline":"bottom","dy":-1,"dx":-3,"fontSize":12,"fontWeight":"bold","font":"Liberation Sans, DejaVu Sans"},"encoding":{"x":{"field":"mid","type":"nominal","bandPosition":0},"y":{"field":"y","type":"quantitative"},"text":{"field":"t"}}}
    ]}
   ],"spacing":15,"bounds":"flush"}
  ],"spacing":6,"bounds":"flush","title":{"text":"E","fontSize":11,"frame":"bounds","offset":1,"dx":-3}},
  {"width":273,"height":191,"title":{"text":"F","fontSize":11,"frame":"bounds","offset":2,"dx":-7},
   "layer":[
    {"data":{"name":"means"},"transform":[{"filter":"datum.m==='CD8'"}],"mark":{"type":"bar","color":"black"},
     "encoding":{"x":{"field":"g","type":"nominal","scale":{"domain":["N","AIT","IX","PIT","EFA","LFA","TCFA","PR","HR","FCP"],"paddingInner":0.35,"paddingOuter":0.15},"axis":{"ticks":false,"domainWidth":2,"labelFontSize":9,"labelPadding":9,"title":"Stage of atherosclerosis","titleFontSize":13,"titlePadding":3}},
      "y":{"field":"mean","type":"quantitative","scale":{"domain":[0,200],"nice":false},"axis":{"values":[0,50,100,150,200],"tickCount":20,"labelOverlap":false,"labelFontSize":9,"tickSize":5,"labelPadding":6,"domainWidth":1.5,"title":"Mean number of CD8 positive cells","titleFontSize":12,"titlePadding":12}}}},
    {"data":{"name":"means"},"transform":[{"filter":"datum.m==='CD8'"}],"mark":{"type":"rule","color":"black","strokeWidth":1.5},"encoding":{"x":{"field":"g","type":"nominal"},"y":{"field":"mean","type":"quantitative"},"y2":{"field":"upper"}}},
    {"data":{"name":"means"},"transform":[{"filter":"datum.m==='CD8'"}],"mark":{"type":"tick","orient":"horizontal","size":8,"thickness":1.5,"color":"black"},"encoding":{"x":{"field":"g","type":"nominal"},"y":{"field":"upper","type":"quantitative"}}},
    {"data":{"name":"groups"},"mark":{"type":"tick","orient":"horizontal","thickness":1.5,"color":"#333","yOffset":4},"encoding":{"x":{"field":"g","type":"nominal"},"y":{"datum":0}}},
    {"data":{"name":"sig"},"transform":[{"filter":"datum.k==='F'"}],"mark":{"type":"rule","color":"black","strokeWidth":1.2},"encoding":{"x":{"field":"from","type":"nominal","bandPosition":0},"x2":{"field":"to","bandPosition":1},"y":{"field":"y","type":"quantitative"}}},
    {"data":{"name":"sig"},"transform":[{"filter":"datum.k==='F' && !datum.odd"}],"mark":{"type":"text","baseline":"bottom","dy":-1,"dx":-4,"fontSize":12,"fontWeight":"bold","font":"Liberation Sans, DejaVu Sans"},"encoding":{"x":{"field":"mid","type":"nominal","bandPosition":0},"y":{"field":"y","type":"quantitative"},"text":{"field":"t"}}},
    {"data":{"name":"sig"},"transform":[{"filter":"datum.k==='F' && datum.odd"}],"mark":{"type":"text","baseline":"bottom","dy":-1,"fontSize":12,"fontWeight":"bold","font":"Liberation Sans, DejaVu Sans"},"encoding":{"x":{"field":"mid","type":"nominal","bandPosition":0.5},"y":{"field":"y","type":"quantitative"},"text":{"field":"t"}}}
   ]}
 ],"spacing":38}
]
}
